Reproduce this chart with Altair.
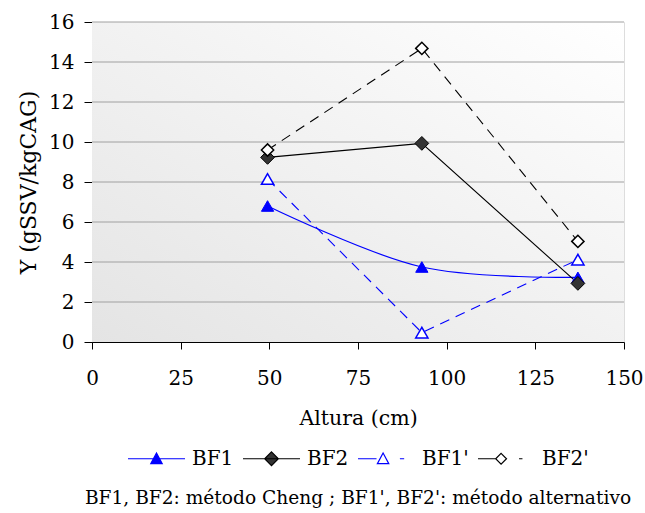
import altair as alt
import pandas as pd

series = ["BF1", "BF2", "BF1'", "BF2'"]
altura = [49.5, 93, 137]
bf1 = [6.8, 3.75, 3.23]
bf2 = [9.23, 9.93, 2.93]
bf1p = [8.15, 0.47, 4.12]
bf2p = [9.6, 14.68, 5.03]
x_ticks = [0, 25, 50, 75, 100, 125, 150]
y_ticks = [0, 2, 4, 6, 8, 10, 12, 14, 16]
caption = "BF1, BF2: método Cheng ;  BF1', BF2': método alternativo"

rows = []
for name, vals in zip(series, [bf1, bf2, bf1p, bf2p]):
    for a, v in zip(altura, vals):
        rows.append({"series": name, "altura": a, "y": v})
df = pd.DataFrame(rows)
grid_df = pd.DataFrame({"y": y_ticks[1:]})

W, H = 532, 320
FONT = "DejaVu Serif"
BLUE = "#0000ff"

xscale = alt.Scale(domain=[0, 150], nice=False)
yscale = alt.Scale(domain=[0, 16], nice=False)

xaxis = alt.Axis(
    values=x_ticks, title="Altura (cm)", grid=False, tickSize=7, labelPadding=19,
    titlePadding=20, domainColor="black", tickColor="black", labelColor="black",
    titleColor="black", labelFont=FONT, titleFont=FONT, labelFontSize=20,
    titleFontSize=20.5, titleFontWeight="normal", labelFlush=False)
yaxis = alt.Axis(
    values=y_ticks, title="Y (gSSV/kgCAG)", grid=False, tickSize=8, labelPadding=10,
    titlePadding=8, domainColor="black", tickColor="black", labelColor="black",
    titleColor="black", labelFont=FONT, titleFont=FONT, labelFontSize=20,
    titleFontSize=22, titleFontWeight="normal", labelFlush=False)
xenc = alt.X("altura:Q", scale=xscale, axis=xaxis)
yenc = alt.Y("y:Q", scale=yscale, axis=yaxis)

background = alt.Chart(grid_df).mark_rect(
    color=alt.Gradient(gradient="linear", x1=0, y1=1, x2=1, y2=0,
                       stops=[alt.GradientStop(color="#e4e4e4", offset=0),
                              alt.GradientStop(color="#ffffff", offset=1)])
).encode(x=alt.value(0), x2=alt.value(W), y=alt.value(0), y2=alt.value(H))

grid = alt.Chart(grid_df).mark_rule(color="#a0a0a0", strokeWidth=1).encode(y=yenc)

base = alt.Chart(df)

line_bf1 = base.transform_filter(alt.datum.series == "BF1").mark_line(
    color=BLUE, strokeWidth=1.2, interpolate="catmull-rom").encode(x=xenc, y=yenc)
line_bf2 = base.transform_filter(alt.datum.series == "BF2").mark_line(
    color="black", strokeWidth=1.1).encode(x=xenc, y=yenc)
line_bf1p = base.transform_filter(alt.datum.series == "BF1'").mark_line(
    color=BLUE, strokeWidth=1.1, strokeDash=[10, 7]).encode(x=xenc, y=yenc)
line_bf2p = base.transform_filter(alt.datum.series == "BF2'").mark_line(
    color="black", strokeWidth=1.1, strokeDash=[10, 7]).encode(x=xenc, y=yenc)

pt_bf1 = base.transform_filter(alt.datum.series == "BF1").mark_point(
    shape="triangle-up", size=150, filled=True, fill=BLUE, stroke=BLUE,
    strokeWidth=1, opacity=1).encode(x=xenc, y=yenc)
pt_bf2 = base.transform_filter(alt.datum.series == "BF2").mark_point(
    shape="diamond", size=190, filled=True, fill="#333333", stroke="black",
    strokeWidth=1, opacity=1).encode(x=xenc, y=yenc)
pt_bf1p = base.transform_filter(alt.datum.series == "BF1'").mark_point(
    shape="triangle-up", size=150, filled=True, fill="white", stroke=BLUE,
    strokeWidth=1.5, opacity=1).encode(x=xenc, y=yenc)
pt_bf2p = base.transform_filter(alt.datum.series == "BF2'").mark_point(
    shape="diamond", size=150, filled=True, fill="white", stroke="black",
    strokeWidth=1.5, opacity=1).encode(x=xenc, y=yenc)

# legend-only layer (no marks drawn): symbols are line + marker paths
leg_shapes = [
    "M-1,0L1,0M0,-0.2L0.2,0.17L-0.2,0.17Z",
    "M-1,0L1,0M0,-0.24L0.24,0L0,0.24L-0.24,0Z",
    "M-1,0L-0.35,0M0.47,0L0.62,0M-0.12,-0.2L0.08,0.17L-0.32,0.17Z",
    "M-1,0L-0.37,0M0.44,0L0.56,0M-0.19,-0.19L0,0L-0.19,0.19L-0.38,0Z",
]
legend_layer = base.transform_filter("false").mark_point(
    filled=True, opacity=1, size=1).encode(
    x=xenc, y=yenc,
    shape=alt.Shape("series:N", title=None,
                    scale=alt.Scale(domain=series, range=leg_shapes)),
    fill=alt.Fill("series:N", title=None,
                  scale=alt.Scale(domain=series, range=[BLUE, "#333333", "white", "white"])),
    stroke=alt.Stroke("series:N", title=None,
                      scale=alt.Scale(domain=series, range=[BLUE, "black", BLUE, "black"]),
                      legend=alt.Legend(orient="none", direction="horizontal",
                                        legendX=35, legendY=407, padding=0,
                                        symbolSize=3249, symbolStrokeWidth=1.2,
                                        labelFont=FONT, labelFontSize=20,
                                        labelColor="black", labelOffset=6,
                                        columnPadding=6)),
)

chart = alt.layer(
    background, grid, line_bf1, line_bf2, line_bf1p, line_bf2p,
    pt_bf1, pt_bf2, pt_bf1p, pt_bf2p, legend_layer
).properties(
    width=W, height=H,
    title=alt.TitleParams(caption, orient="bottom", anchor="middle", font=FONT,
                          fontSize=18.6, fontWeight="normal", color="black", offset=20),
    autosize=alt.AutoSizeParams(type="none"),
    padding={"left": 92, "top": 22, "right": 21, "bottom": 171},
).configure_view(stroke="#999999", strokeWidth=2).configure(background="white")

chart.save("out.html", embed_options={"renderer": "svg", "actions": False})
